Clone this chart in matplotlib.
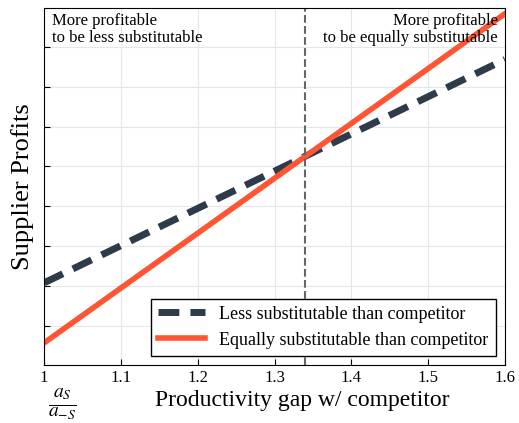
import matplotlib
matplotlib.use('Agg')
import matplotlib.pyplot as plt
import numpy as np

plt.rcParams['font.family'] = ['Liberation Serif', 'DejaVu Serif']
plt.rcParams['mathtext.fontset'] = 'stix'

# data (arbitrary profit units)
gap = [1.0, 1.6]
less_sub = [0.23, 0.855]
equal_sub = [0.062, 0.983]
threshold = 1.34

fig = plt.figure(figsize=(5.19, 4.23), dpi=100)
ax = fig.add_axes([0.085, 0.137, 0.888, 0.845])

ax.plot(gap, less_sub, color='#2e3b4a', lw=5, ls=(0, (3, 1.6)),
        label='Less substitutable than competitor')
ax.plot(gap, equal_sub, color='#ff5533', lw=4,
        label='Equally substitutable than competitor')
ax.axvline(threshold, color='#666666', lw=1.5, ls='--')

ax.set_xlim(1, 1.6)
ax.set_ylim(0, 1)
ax.set_xticks(np.arange(1.0, 1.61, 0.1))
ax.set_xticklabels(['1', '1.1', '1.2', '1.3', '1.4', '1.5', '1.6'], fontsize=12)
ax.set_yticks(np.linspace(0.11, 0.89, 8))
ax.set_yticklabels([])
ax.tick_params(direction='in', length=4)
ax.grid(True, color='#e6e6e6', lw=0.8)

ax.set_ylabel('Supplier Profits', fontsize=19)
ax.set_xlabel('Productivity gap w/ competitor', fontsize=17, labelpad=8)
ax.xaxis.set_label_coords(0.56, -0.07)
fig.text(0.12, 0.045, r'$\frac{a_S}{a_{-S}}$', fontsize=20, ha='center', va='center')

ax.text(0.017, 0.985, 'More profitable\nto be less substitutable', transform=ax.transAxes,
        ha='left', va='top', fontsize=12, linespacing=1.1)
ax.text(0.985, 0.985, 'More profitable\nto be equally substitutable', transform=ax.transAxes,
        ha='right', va='top', fontsize=12, linespacing=1.1)

ax.legend(loc='lower right', fontsize=13, frameon=True, fancybox=False,
          edgecolor='black', handlelength=2.6, borderpad=0.4, framealpha=1)

fig.savefig('out.png', dpi=100)
